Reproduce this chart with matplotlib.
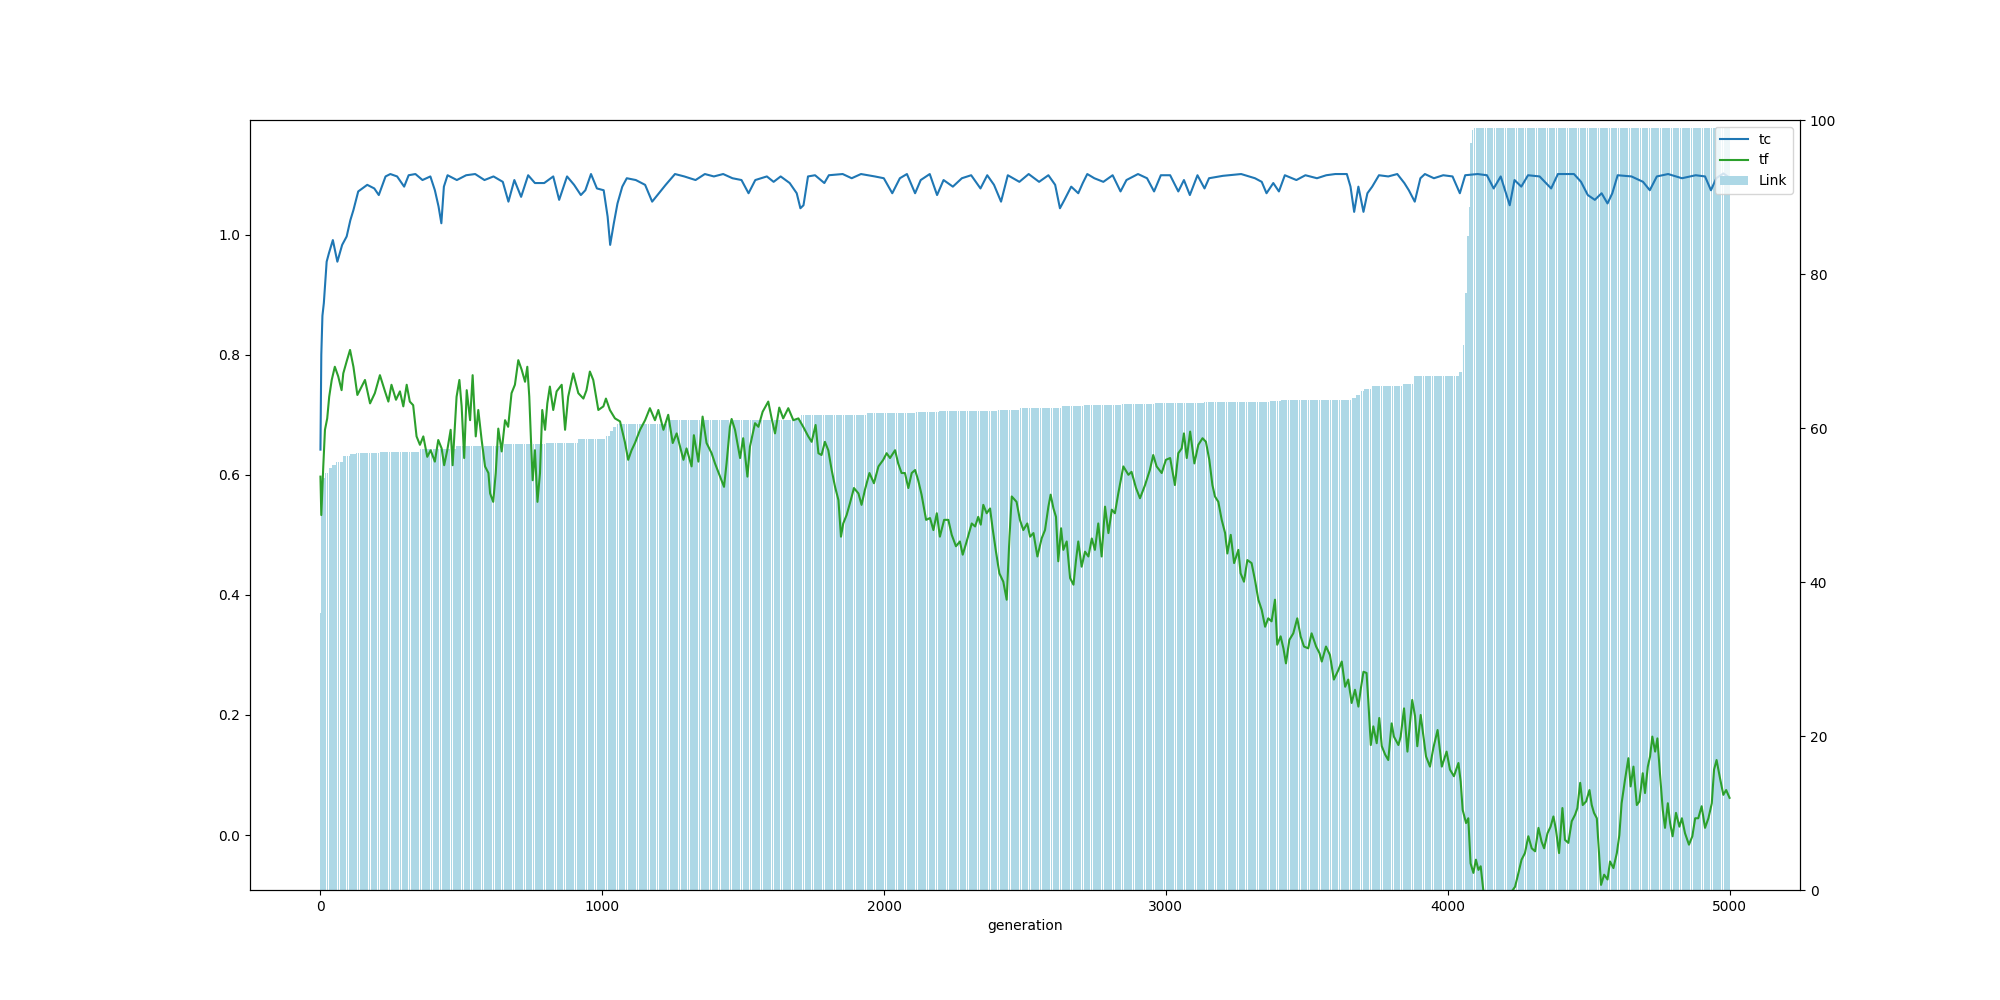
import numpy as np
import matplotlib
matplotlib.use('Agg')
import matplotlib.pyplot as plt

# tc curve (generation, value)
tc_gen = [0, 3, 7, 12, 22, 30, 44, 60, 77, 93, 106, 117, 134, 166, 191, 207, 231, 248, 272, 297,
          313, 337, 362, 390, 406, 419, 429, 438, 451, 484, 517, 549, 582, 614, 647, 667, 688, 712, 737, 761,
          794, 826, 847, 875, 900, 924, 940, 960, 981, 1005, 1019, 1028, 1041, 1054, 1071, 1087, 1119, 1152, 1177, 1201,
          1225, 1258, 1291, 1331, 1364, 1396, 1429, 1462, 1494, 1519, 1543, 1584, 1608, 1633, 1665, 1690, 1703, 1714, 1730, 1755,
          1788, 1804, 1853, 1885, 1918, 1967, 1999, 2029, 2056, 2081, 2110, 2130, 2162, 2188, 2211, 2244, 2276, 2309, 2342, 2366,
          2390, 2415, 2439, 2480, 2513, 2550, 2583, 2607, 2624, 2640, 2664, 2689, 2705, 2721, 2746, 2778, 2811, 2839, 2860, 2901,
          2933, 2958, 2982, 3015, 3044, 3064, 3085, 3112, 3137, 3153, 3202, 3267, 3316, 3340, 3357, 3381, 3401, 3422, 3463, 3495,
          3536, 3569, 3601, 3642, 3655, 3668, 3683, 3701, 3715, 3732, 3756, 3789, 3821, 3846, 3862, 3883, 3903, 3919, 3951, 3984,
          4017, 4043, 4062, 4106, 4139, 4163, 4188, 4212, 4220, 4237, 4261, 4285, 4326, 4367, 4391, 4448, 4473, 4497, 4522, 4546,
          4567, 4584, 4603, 4652, 4693, 4717, 4742, 4782, 4831, 4880, 4913, 4934, 4953, 4978, 5000]
tc_val = [0.642, 0.800, 0.865, 0.886, 0.955, 0.969, 0.991, 0.955, 0.983, 0.997, 1.024, 1.041, 1.072, 1.083, 1.077, 1.066, 1.097, 1.101, 1.097, 1.080,
          1.099, 1.101, 1.091, 1.097, 1.074, 1.047, 1.019, 1.080, 1.099, 1.091, 1.099, 1.101, 1.091, 1.097, 1.088, 1.055, 1.091, 1.063, 1.099, 1.086,
          1.086, 1.097, 1.058, 1.097, 1.083, 1.066, 1.074, 1.101, 1.077, 1.074, 1.030, 0.983, 1.019, 1.052, 1.080, 1.094, 1.091, 1.083, 1.055, 1.069,
          1.083, 1.101, 1.097, 1.091, 1.101, 1.097, 1.101, 1.094, 1.091, 1.069, 1.091, 1.097, 1.088, 1.097, 1.086, 1.069, 1.044, 1.049, 1.097, 1.099,
          1.086, 1.099, 1.101, 1.094, 1.101, 1.097, 1.094, 1.069, 1.094, 1.101, 1.069, 1.091, 1.101, 1.066, 1.091, 1.080, 1.094, 1.099, 1.077, 1.099,
          1.083, 1.055, 1.099, 1.088, 1.101, 1.088, 1.099, 1.083, 1.044, 1.058, 1.080, 1.069, 1.086, 1.101, 1.094, 1.088, 1.099, 1.072, 1.091, 1.101,
          1.094, 1.072, 1.099, 1.099, 1.072, 1.091, 1.066, 1.099, 1.077, 1.094, 1.098, 1.101, 1.094, 1.088, 1.069, 1.086, 1.072, 1.099, 1.091, 1.099,
          1.094, 1.099, 1.101, 1.101, 1.080, 1.038, 1.080, 1.038, 1.069, 1.080, 1.099, 1.097, 1.101, 1.086, 1.074, 1.055, 1.094, 1.101, 1.094, 1.099,
          1.097, 1.069, 1.099, 1.101, 1.099, 1.077, 1.097, 1.061, 1.049, 1.091, 1.080, 1.099, 1.097, 1.077, 1.101, 1.101, 1.088, 1.066, 1.058, 1.069,
          1.052, 1.069, 1.099, 1.097, 1.088, 1.074, 1.097, 1.101, 1.094, 1.099, 1.097, 1.074, 1.094, 1.102, 1.095]

# tf curve
tf_gen = [0, 3, 10, 16, 24, 31, 40, 51, 63, 75, 81, 93, 105, 117, 131, 146, 158, 176, 193, 211,
          229, 241, 252, 268, 282, 294, 306, 317, 329, 341, 353, 365, 379, 391, 406, 418, 430, 439, 450, 462,
          469, 477, 483, 493, 501, 510, 519, 531, 540, 551, 560, 572, 584, 596, 602, 613, 622, 631, 643, 655,
          666, 678, 690, 702, 714, 726, 734, 741, 747, 753, 761, 770, 779, 787, 797, 805, 814, 826, 838, 856,
          868, 879, 897, 915, 933, 944, 956, 968, 986, 1004, 1013, 1027, 1045, 1063, 1080, 1092, 1104, 1116, 1134, 1152,
          1169, 1187, 1199, 1217, 1234, 1250, 1264, 1276, 1288, 1299, 1317, 1325, 1341, 1356, 1370, 1388, 1400, 1418, 1432, 1441,
          1453, 1459, 1471, 1489, 1500, 1515, 1524, 1542, 1554, 1569, 1589, 1601, 1613, 1628, 1642, 1660, 1678, 1696, 1713, 1731,
          1743, 1757, 1767, 1778, 1790, 1802, 1814, 1826, 1838, 1847, 1855, 1867, 1879, 1893, 1909, 1920, 1932, 1948, 1964, 1980,
          1997, 2009, 2021, 2039, 2050, 2062, 2074, 2086, 2098, 2110, 2121, 2133, 2149, 2163, 2175, 2187, 2198, 2213, 2228, 2240,
          2255, 2269, 2279, 2293, 2311, 2323, 2334, 2343, 2352, 2364, 2376, 2385, 2397, 2409, 2423, 2435, 2445, 2453, 2470, 2482,
          2494, 2508, 2518, 2530, 2544, 2559, 2571, 2583, 2591, 2601, 2610, 2618, 2628, 2636, 2648, 2660, 2672, 2681, 2689, 2701,
          2713, 2725, 2737, 2748, 2760, 2772, 2784, 2796, 2808, 2819, 2831, 2849, 2867, 2878, 2894, 2908, 2926, 2943, 2955, 2967,
          2985, 3000, 3015, 3032, 3044, 3056, 3064, 3074, 3086, 3101, 3115, 3130, 3142, 3154, 3165, 3174, 3186, 3198, 3210, 3218,
          3230, 3242, 3257, 3265, 3277, 3289, 3304, 3316, 3328, 3340, 3352, 3363, 3375, 3387, 3395, 3407, 3417, 3426, 3438, 3452,
          3466, 3478, 3490, 3505, 3517, 3533, 3545, 3553, 3568, 3582, 3596, 3612, 3624, 3636, 3647, 3659, 3671, 3683, 3691, 3701,
          3712, 3718, 3727, 3736, 3748, 3757, 3766, 3778, 3789, 3801, 3809, 3825, 3833, 3845, 3857, 3866, 3874, 3884, 3892, 3904,
          3914, 3923, 3937, 3949, 3964, 3979, 3996, 4008, 4022, 4038, 4046, 4053, 4065, 4073, 4081, 4091, 4100, 4109, 4117, 4126,
          4140, 4160, 4175, 4195, 4215, 4230, 4239, 4251, 4262, 4274, 4286, 4298, 4310, 4322, 4333, 4342, 4354, 4365, 4375, 4384,
          4395, 4407, 4416, 4428, 4440, 4452, 4460, 4470, 4479, 4491, 4503, 4511, 4519, 4529, 4537, 4544, 4555, 4567, 4576, 4588,
          4600, 4609, 4617, 4629, 4641, 4649, 4659, 4671, 4680, 4692, 4700, 4710, 4718, 4726, 4736, 4744, 4753, 4763, 4771, 4781,
          4789, 4798, 4810, 4822, 4831, 4842, 4856, 4868, 4878, 4889, 4901, 4913, 4925, 4937, 4945, 4954, 4966, 4978, 4988, 5000]
tf_val = [0.597, 0.533, 0.614, 0.675, 0.694, 0.730, 0.758, 0.780, 0.764, 0.741, 0.769, 0.789, 0.808, 0.780, 0.733, 0.747, 0.758, 0.719, 0.736, 0.766,
          0.739, 0.722, 0.750, 0.725, 0.739, 0.714, 0.750, 0.722, 0.716, 0.664, 0.650, 0.664, 0.630, 0.641, 0.622, 0.658, 0.644, 0.616, 0.641, 0.675,
          0.616, 0.680, 0.730, 0.758, 0.714, 0.628, 0.741, 0.691, 0.766, 0.664, 0.708, 0.658, 0.614, 0.603, 0.569, 0.555, 0.603, 0.677, 0.639, 0.691,
          0.680, 0.736, 0.750, 0.791, 0.775, 0.755, 0.780, 0.730, 0.658, 0.591, 0.641, 0.555, 0.603, 0.708, 0.675, 0.719, 0.747, 0.708, 0.739, 0.750,
          0.675, 0.730, 0.769, 0.736, 0.727, 0.741, 0.772, 0.758, 0.708, 0.714, 0.727, 0.708, 0.694, 0.689, 0.655, 0.625, 0.641, 0.653, 0.675, 0.691,
          0.711, 0.691, 0.708, 0.675, 0.700, 0.653, 0.669, 0.647, 0.625, 0.644, 0.614, 0.666, 0.622, 0.697, 0.653, 0.636, 0.619, 0.597, 0.580, 0.619,
          0.680, 0.693, 0.675, 0.628, 0.661, 0.597, 0.647, 0.686, 0.680, 0.705, 0.722, 0.694, 0.669, 0.712, 0.694, 0.711, 0.691, 0.694, 0.680, 0.664,
          0.655, 0.683, 0.636, 0.633, 0.655, 0.641, 0.608, 0.580, 0.558, 0.497, 0.519, 0.533, 0.553, 0.578, 0.569, 0.550, 0.575, 0.603, 0.586, 0.614,
          0.625, 0.636, 0.628, 0.641, 0.619, 0.603, 0.603, 0.578, 0.603, 0.608, 0.591, 0.567, 0.525, 0.528, 0.508, 0.536, 0.497, 0.525, 0.525, 0.500,
          0.481, 0.489, 0.467, 0.489, 0.519, 0.514, 0.530, 0.517, 0.550, 0.536, 0.544, 0.511, 0.472, 0.436, 0.422, 0.392, 0.497, 0.564, 0.555, 0.525,
          0.508, 0.519, 0.497, 0.503, 0.464, 0.494, 0.508, 0.547, 0.567, 0.544, 0.530, 0.456, 0.511, 0.475, 0.489, 0.428, 0.417, 0.458, 0.489, 0.447,
          0.472, 0.464, 0.494, 0.475, 0.519, 0.464, 0.547, 0.503, 0.542, 0.536, 0.569, 0.614, 0.600, 0.605, 0.578, 0.561, 0.583, 0.608, 0.633, 0.614,
          0.603, 0.625, 0.628, 0.583, 0.636, 0.644, 0.669, 0.628, 0.672, 0.619, 0.650, 0.661, 0.655, 0.625, 0.583, 0.564, 0.555, 0.525, 0.503, 0.469,
          0.500, 0.453, 0.475, 0.436, 0.422, 0.458, 0.453, 0.425, 0.392, 0.375, 0.347, 0.361, 0.356, 0.392, 0.317, 0.331, 0.311, 0.286, 0.325, 0.336,
          0.361, 0.331, 0.314, 0.311, 0.336, 0.314, 0.303, 0.289, 0.314, 0.300, 0.259, 0.275, 0.289, 0.247, 0.259, 0.220, 0.242, 0.214, 0.242, 0.272,
          0.270, 0.225, 0.150, 0.181, 0.153, 0.195, 0.148, 0.134, 0.125, 0.186, 0.164, 0.150, 0.164, 0.211, 0.139, 0.186, 0.225, 0.198, 0.148, 0.200,
          0.164, 0.131, 0.114, 0.145, 0.175, 0.114, 0.139, 0.109, 0.098, 0.120, 0.089, 0.042, 0.020, 0.028, -0.047, -0.063, -0.041, -0.058, -0.052, -0.091,
          -0.105, -0.093, -0.110, -0.095, -0.100, -0.092, -0.086, -0.063, -0.041, -0.030, -0.002, -0.022, -0.027, 0.012, -0.011, -0.022, 0.003, 0.014, 0.031, 0.009,
          -0.030, 0.045, -0.008, -0.013, 0.023, 0.034, 0.045, 0.087, 0.050, 0.056, 0.075, 0.050, 0.037, 0.028, -0.030, -0.083, -0.066, -0.074, -0.044, -0.055,
          -0.030, 0.000, 0.053, 0.092, 0.128, 0.081, 0.114, 0.050, 0.056, 0.103, 0.070, 0.114, 0.131, 0.164, 0.139, 0.161, 0.103, 0.042, 0.012, 0.053,
          0.020, -0.002, 0.037, 0.014, 0.028, 0.003, -0.016, -0.002, 0.028, 0.028, 0.048, 0.012, 0.028, 0.053, 0.109, 0.125, 0.095, 0.067, 0.075, 0.062]

# Link per generation, a step series: level holds from its start generation on
link_start = [0, 1, 3, 8, 16, 28, 40, 57, 81, 105, 128, 211, 350, 480, 650, 800, 915, 1015, 1028, 1040,
              1050, 1230, 1705, 1935, 2110, 2195, 2400, 2480, 2627, 2705, 2846, 2958, 3136, 3366, 3408, 3656, 3675, 3690, 3705, 3733,
              3840, 3880, 3958, 4042, 4050, 4056, 4063, 4069, 4075, 4080, 4087, 4094]
link_level = [36, 45, 51, 53.5, 54.2, 54.8, 55.2, 55.6, 56.3, 56.6, 56.8, 56.9, 57.3, 57.6, 57.9, 58.1, 58.6, 59.0, 59.6, 60.1,
              60.5, 61.1, 61.7, 61.95, 62.1, 62.2, 62.4, 62.55, 62.9, 63.0, 63.1, 63.2, 63.4, 63.5, 63.6, 63.9, 64.3, 64.8, 65.1, 65.45,
              65.7, 66.7, 66.8, 67.3, 67.7, 70.8, 77.5, 84.9, 88.7, 97, 98.7, 99.0]
last_gen = 5000

runs = np.diff(link_start + [last_gen + 1])
link = np.repeat(link_level, runs)
gens = np.arange(last_gen + 1)

fig, ax1 = plt.subplots(figsize=(20, 10), dpi=100)
ax2 = ax1.twinx()

ax2.bar(gens, link, color='lightblue', label='Link')
ax2.set_ylim(0, 100)

l1, = ax1.plot(tc_gen, tc_val, color='tab:blue', label='tc')
l2, = ax1.plot(tf_gen, tf_val, color='tab:green', label='tf')
ax1.set_zorder(ax2.get_zorder() + 1)
ax1.patch.set_visible(False)

ax1.set_xlim(-250, 5250)
ax1.set_ylim(-0.0915, 1.191)
ax1.set_xlabel('generation')

handles = [l1, l2, ax2.containers[0]]
ax1.legend(handles, ['tc', 'tf', 'Link'], loc='upper right')

fig.savefig('out.png')
